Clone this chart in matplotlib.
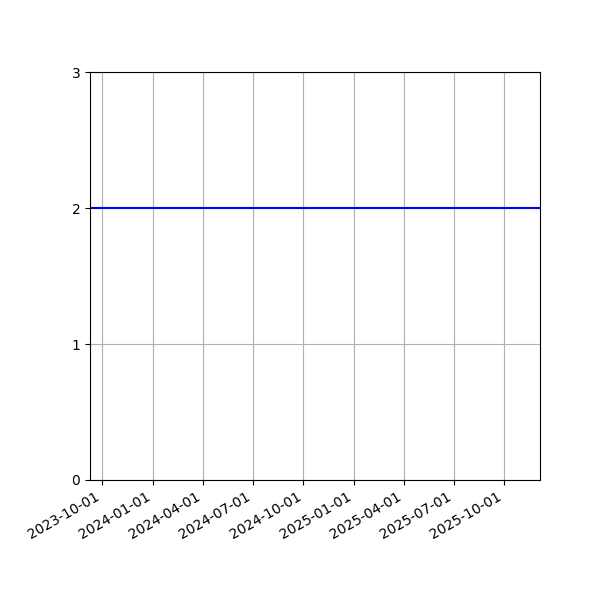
import matplotlib
matplotlib.use("Agg")
import matplotlib.pyplot as plt
import matplotlib.dates as mdates
import pandas as pd

# series: flat value of 2 over the whole window
dates = pd.to_datetime(["2023-09-09", "2025-12-05"])
values = [2, 2]
tick_dates = pd.to_datetime(["2023-10-01", "2024-01-01", "2024-04-01", "2024-07-01",
                             "2024-10-01", "2025-01-01", "2025-04-01", "2025-07-01",
                             "2025-10-01"])
y_ticks = [0, 1, 2, 3]

fig, ax = plt.subplots(figsize=(6, 6), dpi=100)
ax.plot(dates, values, color="blue", linewidth=1.5)
ax.set_xlim(dates[0], dates[-1])
ax.set_ylim(0, 3)
ax.set_yticks(y_ticks)
ax.set_xticks(tick_dates)
ax.xaxis.set_major_formatter(mdates.DateFormatter("%Y-%m-%d"))
ax.grid(True)
fig.autofmt_xdate()
fig.subplots_adjust(left=0.15, right=0.9, top=0.88, bottom=0.2)
fig.savefig("out.png")
